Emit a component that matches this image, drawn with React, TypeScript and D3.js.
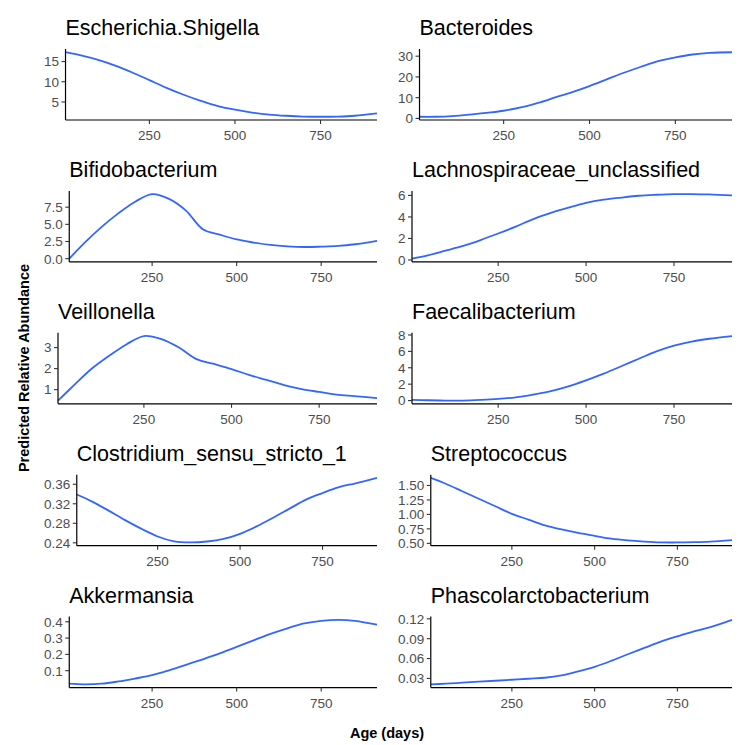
import * as d3 from "d3";

// age grid (days) at which the smoothed predictions were read
const ageDays = [5, 50, 100, 150, 200, 250, 300, 350, 400, 450, 500, 550, 600, 650, 700, 750, 800, 850, 915];

const escherichia = [17.3, 16.5, 15.4, 14.0, 12.3, 10.4, 8.5, 6.8, 5.3, 4.0, 3.1, 2.4, 1.9, 1.6, 1.4, 1.35, 1.4, 1.6, 2.2];
const bacteroides = [0.8, 0.8, 1.1, 1.8, 2.7, 3.7, 5.3, 7.5, 10.1, 12.7, 15.6, 18.8, 22.0, 24.9, 27.6, 29.4, 30.8, 31.6, 31.9];
const bifidobacterium = [0, 2.3, 4.6, 6.6, 8.3, 9.4, 8.7, 7.0, 4.3, 3.5, 2.8, 2.35, 2.0, 1.8, 1.7, 1.75, 1.85, 2.1, 2.6];
const lachnospiraceae = [0.12, 0.43, 0.86, 1.3, 1.85, 2.46, 3.1, 3.8, 4.37, 4.86, 5.3, 5.6, 5.8, 5.97, 6.06, 6.12, 6.12, 6.09, 6.0];
const veillonella = [0.48, 1.2, 1.98, 2.6, 3.15, 3.55, 3.4, 3.0, 2.45, 2.22, 1.98, 1.7, 1.46, 1.22, 1.03, 0.89, 0.76, 0.69, 0.6];
const faecalibacterium = [0.08, 0.04, 0, 0, 0.08, 0.2, 0.4, 0.74, 1.15, 1.72, 2.46, 3.28, 4.18, 5.1, 6.0, 6.7, 7.2, 7.54, 7.87];
const clostridium = [0.339, 0.325, 0.3065, 0.287, 0.269, 0.253, 0.243, 0.2407, 0.2427, 0.248, 0.2585, 0.2736, 0.2914, 0.31, 0.3285, 0.342, 0.354, 0.362, 0.373];
const streptococcus = [1.63, 1.53, 1.4, 1.27, 1.14, 1.01, 0.91, 0.81, 0.74, 0.68, 0.63, 0.58, 0.55, 0.53, 0.517, 0.515, 0.52, 0.53, 0.555];
const akkermansia = [0.02, 0.016, 0.02, 0.034, 0.052, 0.072, 0.102, 0.136, 0.17, 0.206, 0.246, 0.286, 0.326, 0.36, 0.39, 0.406, 0.412, 0.406, 0.382];
const phascolarctobacterium = [0.021, 0.022, 0.0235, 0.025, 0.0265, 0.028, 0.0295, 0.031, 0.0345, 0.0405, 0.0475, 0.0565, 0.0665, 0.076, 0.0855, 0.0935, 0.101, 0.1075, 0.1185];

const xTicks = [250, 500, 750];

const panels = [
  { title: "Escherichia.Shigella", values: escherichia, ticks: ["5", "10", "15"] },
  { title: "Bacteroides", values: bacteroides, ticks: ["0", "10", "20", "30"] },
  { title: "Bifidobacterium", values: bifidobacterium, ticks: ["0.0", "2.5", "5.0", "7.5"] },
  { title: "Lachnospiraceae_unclassified", values: lachnospiraceae, ticks: ["0", "2", "4", "6"] },
  { title: "Veillonella", values: veillonella, ticks: ["1", "2", "3"] },
  { title: "Faecalibacterium", values: faecalibacterium, ticks: ["0", "2", "4", "6", "8"] },
  { title: "Clostridium_sensu_stricto_1", values: clostridium, ticks: ["0.24", "0.28", "0.32", "0.36"] },
  { title: "Streptococcus", values: streptococcus, ticks: ["0.50", "0.75", "1.00", "1.25", "1.50"] },
  { title: "Akkermansia", values: akkermansia, ticks: ["0.1", "0.2", "0.3", "0.4"] },
  { title: "Phascolarctobacterium", values: phascolarctobacterium, ticks: ["0.03", "0.06", "0.09", "0.12"] },
];

const W = 754;
const H = 745;
const FONT = '"Liberation Sans", Arial, sans-serif';
const TICK_SIZE = 13.5;
const colLabelLeft = [41, 395];
const colRight = [377, 732];
const firstTop = 49;
const rowStep = 141.9;
const plotH = 71;

let ctx: CanvasRenderingContext2D | null = null;
function textWidth(s: string) {
  if (!ctx) ctx = document.createElement("canvas").getContext("2d");
  if (!ctx) return s.length * 7.5;
  ctx.font = `${TICK_SIZE}px "Liberation Sans"`;
  return ctx.measureText(s).width;
}

function Panel({ p, i }: { p: (typeof panels)[number]; i: number }) {
  const col = i % 2;
  const row = Math.floor(i / 2);
  const labelW = d3.max(p.ticks, (t) => textWidth(t)) ?? 0;
  const left = colLabelLeft[col] + labelW + 9.5;
  const right = colRight[col];
  const top = firstTop + row * rowStep;
  const bottom = top + plotH;

  const x = d3.scaleLinear().domain([ageDays[0], ageDays[ageDays.length - 1]]).range([left, right]);
  const [lo, hi] = d3.extent(p.values) as [number, number];
  const pad = (hi - lo) * 0.05;
  const y = d3.scaleLinear().domain([lo - pad, hi + pad]).range([bottom, top]);

  const line = d3
    .line<number>()
    .x((_, k) => x(ageDays[k]))
    .y((d) => y(d))
    .curve(d3.curveCatmullRom.alpha(0.5));

  return (
    <g>
      <text x={left} y={top - 14} fontSize={21.5} fill="#000">
        {p.title}
      </text>
      <path d={line(p.values) ?? ""} fill="none" stroke="#3366FF" strokeWidth={1.8} />
      <line x1={left} x2={left} y1={top} y2={bottom} stroke="#000" strokeWidth={1.2} />
      <line x1={left} x2={right} y1={bottom} y2={bottom} stroke="#000" strokeWidth={1.2} />
      {p.ticks.map((t) => (
        <g key={t}>
          <line x1={left - 4} x2={left} y1={y(+t)} y2={y(+t)} stroke="#333" strokeWidth={1.1} />
          <text x={left - 6.5} y={y(+t)} dy="0.36em" textAnchor="end" fontSize={TICK_SIZE} fill="#4D4D4D">
            {t}
          </text>
        </g>
      ))}
      {xTicks.map((t) => (
        <g key={t}>
          <line x1={x(t)} x2={x(t)} y1={bottom} y2={bottom + 4} stroke="#333" strokeWidth={1.1} />
          <text x={x(t)} y={bottom + 20} textAnchor="middle" fontSize={TICK_SIZE} fill="#4D4D4D">
            {t}
          </text>
        </g>
      ))}
    </g>
  );
}

export default function App() {
  return (
    <svg
      width={W}
      height={H}
      style={{ position: "absolute", left: 0, top: 0, background: "#fff" }}
      fontFamily={FONT}
    >
      <rect width={W} height={H} fill="#fff" />
      {panels.map((p, i) => (
        <Panel key={p.title} p={p} i={i} />
      ))}
      <text x={387} y={738} textAnchor="middle" fontSize={14.5} fontWeight="bold" fill="#000">
        Age (days)
      </text>
      <text
        transform="translate(29,368) rotate(-90)"
        textAnchor="middle"
        fontSize={14.5}
        fontWeight="bold"
        fill="#000"
      >
        Predicted Relative Abundance
      </text>
    </svg>
  );
}
